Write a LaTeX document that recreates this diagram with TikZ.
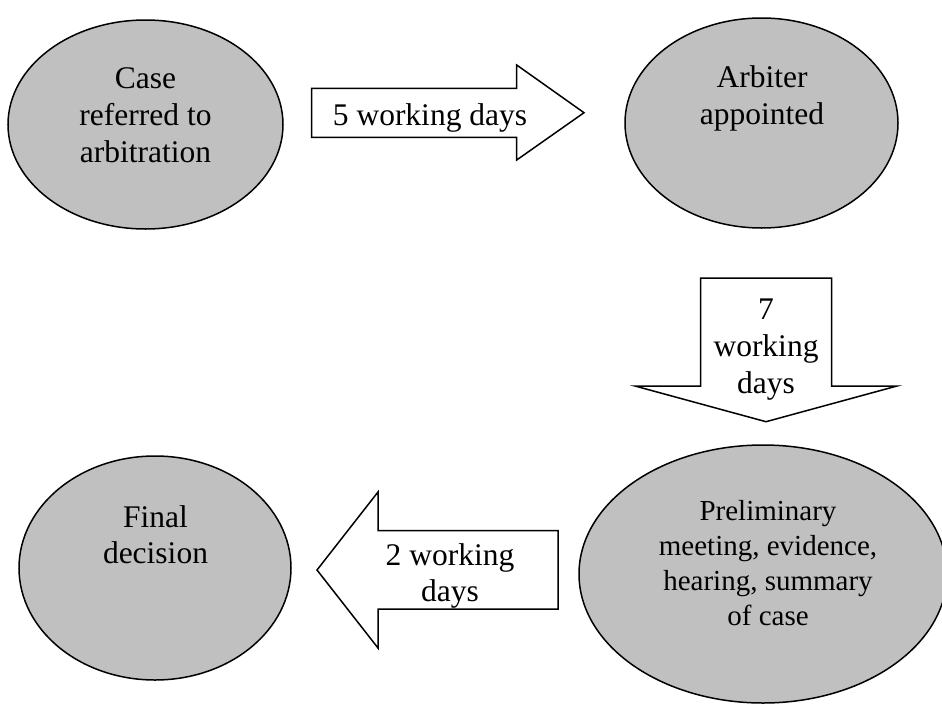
\documentclass[tikz,border=0pt]{standalone}
\usepackage{fontspec}
\setmainfont{Liberation Serif}
\usetikzlibrary{shapes.geometric}
\definecolor{ovalgray}{HTML}{C0C0C0}
\tikzset{
  oval/.style={ellipse, draw=black, line width=1.5pt, fill=ovalgray, inner sep=0pt},
  blockarrow/.style={draw=black, line width=1.5pt, fill=white, line join=miter},
  lbl/.style={anchor=base, inner sep=0pt, font=\fontsize{31.5}{37}\selectfont},
  lblsmall/.style={anchor=base, inner sep=0pt, font=\fontsize{29}{35}\selectfont}
}
\begin{document}
\begin{tikzpicture}[x=1pt,y=-1pt]
\useasboundingbox (0,0) rectangle (942,704);
% ovals
\node[oval, minimum width=275pt, minimum height=209pt] (e1) at (145.5,124.5) {};
\node[oval, minimum width=273pt, minimum height=210pt] (e2) at (761.5,123) {};
\node[oval, minimum width=368pt, minimum height=258pt] (e3) at (763,574) {};
\node[oval, minimum width=272pt, minimum height=224pt] (e4) at (155,568) {};
% block arrows
\draw[blockarrow] (311.7,88.3) -- (516.7,88.3) -- (516.7,65) -- (584,112.7) -- (516.7,160) -- (516.7,137.3) -- (311.7,137.3) -- cycle;
\draw[blockarrow] (700.7,278) -- (831.7,278) -- (831.7,386) -- (897,386) -- (766,421.7) -- (635,386) -- (700.7,386) -- cycle;
\draw[blockarrow] (558,530.7) -- (378,530.7) -- (378,492) -- (317,570) -- (378,648) -- (378,609) -- (558,609) -- cycle;
% oval texts
\node[lbl] (t1a) at (145.5,88) {Case};
\node[lbl] (t1b) at (145.5,125) {referred to};
\node[lbl] (t1c) at (145.5,162) {arbitration};
\node[lbl] (t2a) at (762,87) {Arbiter};
\node[lbl] (t2b) at (762,124) {appointed};
\node[lblsmall] (t3a) at (768,520) {Preliminary};
\node[lblsmall] (t3b) at (768,555) {meeting, evidence,};
\node[lblsmall] (t3c) at (768,590) {hearing, summary};
\node[lblsmall] (t3d) at (768,625) {of case};
\node[lbl] (t4a) at (155.5,527) {Final};
\node[lbl] (t4b) at (155.5,563) {decision};
% arrow texts
\node[lbl] (a1) at (430,125) {5 working days};
\node[lbl] (a2a) at (766,319) {7};
\node[lbl] (a2b) at (766,356) {working};
\node[lbl] (a2c) at (766,393) {days};
\node[lbl] (a3a) at (450,565) {2 working};
\node[lbl] (a3b) at (450,601) {days};
\end{tikzpicture}
\end{document}
